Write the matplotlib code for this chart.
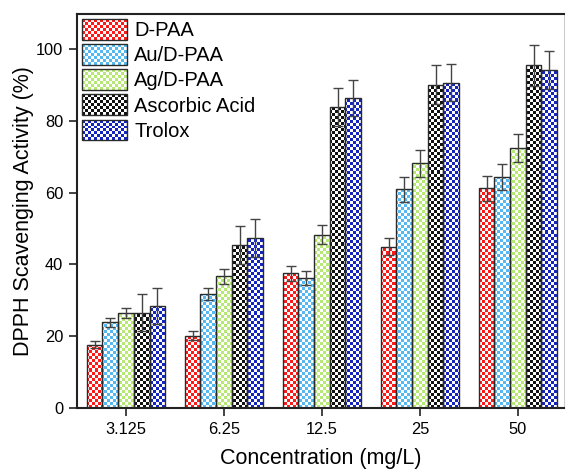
import numpy as np
import matplotlib
matplotlib.use("Agg")
import matplotlib.pyplot as plt
from matplotlib.patches import Rectangle

plt.rcParams['font.family'] = ['Liberation Sans', 'DejaVu Sans']

categories = ["3.125", "6.25", "12.5", "25", "50"]
series_names = ["D-PAA", "Au/D-PAA", "Ag/D-PAA", "Ascorbic Acid", "Trolox"]
dpaa = [17.6, 20.2, 37.6, 45.0, 61.2]
au_dpaa = [23.9, 31.8, 36.3, 60.9, 64.4]
ag_dpaa = [26.6, 36.7, 48.3, 68.2, 72.4]
ascorbic = [26.6, 45.3, 83.9, 90.1, 95.5]
trolox = [28.5, 47.4, 86.3, 90.7, 94.2]
dpaa_err = [1.0, 1.2, 2.1, 2.5, 3.4]
au_err = [1.2, 1.7, 2.0, 3.4, 3.7]
ag_err = [1.4, 2.1, 2.7, 3.7, 3.9]
asc_err = [5.2, 5.3, 5.2, 5.4, 5.8]
trolox_err = [5.0, 5.2, 5.0, 5.2, 5.2]
colors = ["#ff1a1a", "#55b8f0", "#b6e874", "#111111", "#1424c0"]

values = [dpaa, au_dpaa, ag_dpaa, ascorbic, trolox]
errors = [dpaa_err, au_err, ag_err, asc_err, trolox_err]

W, H, DPI = 566, 470, 100
fig = plt.figure(figsize=(W / DPI, H / DPI), dpi=DPI)
ax = fig.add_axes([77 / W, (H - 408) / H, (564 - 77) / W, (408 - 14) / H])

xlim = (-0.5, 4.47)
ylim = (0, 109.8)
ax.set_xlim(*xlim)
ax.set_ylim(*ylim)

cell_px = 3.0
ax_w_px = 564 - 77
ax_h_px = 408 - 14
nx = int(np.ceil(ax_w_px / cell_px))
ny = int(np.ceil(ax_h_px / cell_px))
ii, jj = np.meshgrid(np.arange(nx), np.arange(ny))
mask = ((ii + jj) % 2 == 0)


def checker_img(color):
    rgb = np.array(matplotlib.colors.to_rgb(color))
    img = np.ones((ny, nx, 3))
    img[mask] = rgb
    return img


x = np.arange(len(categories))
bw = 0.16
n = len(series_names)
for k in range(n):
    offs = (k - (n - 1) / 2) * bw
    bars = ax.bar(x + offs, values[k], width=bw, facecolor='none',
                  edgecolor='#2a2a2a', linewidth=1.0, zorder=3)
    img = checker_img(colors[k])
    for b in bars:
        im = ax.imshow(img, extent=(xlim[0], xlim[0] + nx * cell_px / ax_w_px * (xlim[1] - xlim[0]),
                                    ylim[0], ylim[0] + ny * cell_px / ax_h_px * (ylim[1] - ylim[0])),
                       origin='lower', interpolation='nearest', aspect='auto', zorder=2)
        im.set_clip_path(b)
    ax.errorbar(x + offs, values[k], yerr=errors[k], fmt='none', ecolor='#444444',
                elinewidth=1.0, capsize=3.3, capthick=1.0, zorder=4)

ax.set_xlim(*xlim)
ax.set_ylim(*ylim)
ax.set_xticks(x)
ax.set_xticklabels(categories)
ax.set_yticks([0, 20, 40, 60, 80, 100])
ax.tick_params(axis='both', labelsize=11.8, direction='out', length=6, width=1.2,
               color='#222222', pad=4)
ax.set_xlabel("Concentration (mg/L)", fontsize=15.5, labelpad=8)
ax.set_ylabel("DPPH Scavenging Activity (%)", fontsize=15.5, labelpad=1)
for s in ['left', 'bottom', 'top']:
    ax.spines[s].set_linewidth(1.5)
    ax.spines[s].set_color('#222222')
ax.spines['right'].set_color('#cccccc')
ax.spines['right'].set_linewidth(0.8)


class CheckerHandler:
    def __init__(self, color):
        self.color = color

    def legend_artist(self, legend, orig_handle, fontsize, handlebox):
        x0, y0 = -handlebox.xdescent, -handlebox.ydescent
        w, h = handlebox.width, handlebox.height
        c = cell_px * 72 / DPI
        ncx = int(round(w / c))
        ncy = int(round(h / c))
        cw, ch = w / ncx, h / ncy
        tr = handlebox.get_transform()
        bg = Rectangle((x0, y0), w, h, facecolor='white', edgecolor='none', transform=tr)
        handlebox.add_artist(bg)
        for i in range(ncx):
            for j in range(ncy):
                if (i + j) % 2 == 0:
                    r = Rectangle((x0 + i * cw, y0 + j * ch), cw, ch, facecolor=self.color,
                                  edgecolor='none', transform=tr)
                    handlebox.add_artist(r)
        border = Rectangle((x0, y0), w, h, facecolor='none', edgecolor='#2a2a2a',
                           linewidth=1.0, transform=tr)
        handlebox.add_artist(border)
        return border


handles = [Rectangle((0, 0), 1, 1) for _ in series_names]
handler_map = {h: CheckerHandler(c) for h, c in zip(handles, colors)}
ax.legend(handles, series_names, handler_map=handler_map, loc='upper left',
          bbox_to_anchor=(0.0, 1.0), frameon=False, fontsize=14.5, handlelength=2.25,
          handleheight=1.2, labelspacing=0.2, handletextpad=0.35, borderaxespad=0.15,
          borderpad=0.1)

fig.savefig("out.png", dpi=DPI)
